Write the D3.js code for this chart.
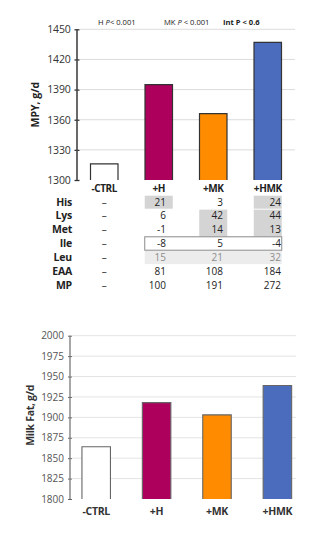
<!DOCTYPE html>
<html>
<head>
<meta charset="utf-8">
<script src="https://cdn.jsdelivr.net/npm/d3@7"></script>
<style>
  html, body { margin: 0; padding: 0; background: #fff; }
  svg { display: block; font-family: "Open Sans", "Liberation Sans", sans-serif; }
</style>
</head>
<body>
<svg id="chart" width="329" height="542"></svg>
<script>
// Treatments
const treatments = ["-CTRL", "+H", "+MK", "+HMK"];
const barColors = ["#ffffff", "#ad005c", "#ff8c00", "#4b6cbd"];

// Milk protein yield, g/d
const mpyValues = [1316, 1395, 1366, 1437];
const mpyTicks = [1300, 1330, 1360, 1390, 1420, 1450];

// Milk fat, g/d
const fatValues = [1864, 1918, 1903, 1939];
const fatTicks = [1800, 1825, 1850, 1875, 1900, 1925, 1950, 1975, 2000];

// Supply increase over control, g/d (CTRL shown as a dash)
const tableRows = ["His", "Lys", "Met", "Ile", "Leu", "EAA", "MP"];
const tableValues = [
  [null, 21, 3, 24],
  [null, 6, 42, 44],
  [null, -1, 14, 13],
  [null, -8, 5, -4],
  [null, 15, 21, 32],
  [null, 81, 108, 184],
  [null, 100, 191, 272]
];
// Highlighted cells: column and the run of rows they cover
const shadedBlocks = [
  { col: "+H", rows: ["His"] },
  { col: "+HMK", rows: ["His"] },
  { col: "+MK", rows: ["Lys", "Met"] },
  { col: "+HMK", rows: ["Lys", "Met"] }
];
const outlinedRow = "Ile";
const mutedRow = "Leu";

// Significance notes
const pNotes = [
  { pre: "H ", it: "P", post: "< 0.001", bold: false },
  { pre: "MK ", it: "P", post: " < 0.001", bold: false },
  { pre: "Int P < 0.6", it: "", post: "", bold: true }
];

const svg = d3.select("#chart");
const fmt = d3.format("d");

function drawBars(g, x, y, values, barW, strokeCol, strokeW) {
  treatments.forEach((t, i) => {
    const cx = x(t) + x.bandwidth() / 2;
    const x0 = cx - barW / 2, x1 = cx + barW / 2;
    const yT = y(values[i]), yBase = y.range()[0];
    g.append("rect")
      .attr("x", x0).attr("y", yT)
      .attr("width", barW).attr("height", yBase - yT)
      .attr("fill", barColors[i]);
    g.append("path")
      .attr("d", `M${x0},${yBase}V${yT}H${x1}V${yBase}`)
      .attr("fill", "none")
      .attr("stroke", strokeCol)
      .attr("stroke-width", strokeW);
  });
}

// ---------- Top panel: MPY ----------
const mpyG = svg.append("g");
const yMpy = d3.scaleLinear().domain([1300, 1450]).range([180, 29.3]);
const xMpy = d3.scaleBand().domain(treatments).range([77, 295]);

mpyG.append("g").selectAll("line").data(mpyTicks.slice(1)).join("line")
  .attr("x1", 80).attr("x2", 295)
  .attr("y1", d => yMpy(d)).attr("y2", d => yMpy(d))
  .attr("stroke", "#dcdcdc").attr("stroke-width", 1);

const axMpy = mpyG.append("g").attr("transform", "translate(77,0)")
  .call(d3.axisLeft(yMpy).tickValues(mpyTicks).tickFormat(fmt).tickSize(2.5).tickPadding(4));
axMpy.select(".domain").remove();
axMpy.selectAll(".tick line").attr("x2", 2.5).attr("x1", -2.5).attr("stroke", "#333").attr("stroke-width", 1.3);
axMpy.selectAll(".tick text").attr("font-size", 10.5).attr("fill", "#333")
  .attr("font-family", "Open Sans, sans-serif").attr("letter-spacing", -0.2);
mpyG.append("line").attr("x1", 77).attr("x2", 77)
  .attr("y1", yMpy(1450)).attr("y2", yMpy(1300))
  .attr("stroke", "#444").attr("stroke-width", 1.6);

drawBars(mpyG, xMpy, yMpy, mpyValues, 27.5, "#333", 1.2);

mpyG.append("text")
  .attr("transform", `translate(39,${(yMpy(1450) + yMpy(1300)) / 2}) rotate(-90)`)
  .attr("text-anchor", "middle")
  .attr("font-size", 10.5).attr("font-weight", "bold").attr("fill", "#222")
  .text("MPY, g/d");

const noteX = [98, 164, 223];
pNotes.forEach((n, i) => {
  const t = mpyG.append("text").attr("x", noteX[i]).attr("y", 24.5)
    .attr("font-size", 7.6).attr("fill", "#222")
    .attr("font-weight", n.bold ? "bold" : "normal");
  t.append("tspan").text(n.pre);
  if (n.it) t.append("tspan").attr("font-style", "italic").text(n.it);
  if (n.post) t.append("tspan").text(n.post);
});

mpyG.append("g").selectAll("text").data(treatments).join("text")
  .attr("x", d => xMpy(d) + xMpy.bandwidth() / 2)
  .attr("y", 192)
  .attr("text-anchor", "middle")
  .attr("font-size", 10).attr("font-weight", "bold").attr("fill", "#222")
  .attr("letter-spacing", -0.4)
  .text(d => d);

// ---------- Supply table ----------
const tbl = svg.append("g");
const rowY = d3.scalePoint().domain(tableRows).range([201.7, 285.3]);
const colLeft = t => xMpy(t) + xMpy.bandwidth() / 2 - 14;
const colRight = t => xMpy(t) + xMpy.bandwidth() / 2 + 14;
const textRight = { "+H": 166, "+MK": 223, "+HMK": 281 };

shadedBlocks.forEach(b => {
  const y0 = rowY(b.rows[0]) - 6;
  const y1 = rowY(b.rows[b.rows.length - 1]) + 7;
  tbl.append("rect")
    .attr("x", colLeft(b.col)).attr("y", y0)
    .attr("width", colRight(b.col) - colLeft(b.col)).attr("height", y1 - y0)
    .attr("fill", "#d4d4d4");
});

tbl.append("rect")
  .attr("x", colLeft("+H")).attr("y", rowY(mutedRow) - 6.7)
  .attr("width", colRight("+HMK") - colLeft("+H")).attr("height", 13.4)
  .attr("fill", "#ececec");

tbl.append("rect")
  .attr("x", colLeft("+H")).attr("y", rowY(outlinedRow) - 6.7)
  .attr("width", colRight("+HMK") - colLeft("+H")).attr("height", 13.4)
  .attr("fill", "#fff").attr("stroke", "#8a8a8a").attr("stroke-width", 1);

tableRows.forEach((r, ri) => {
  const cy = rowY(r) + 3.8;
  tbl.append("text").attr("x", 72).attr("y", cy)
    .attr("text-anchor", "end").attr("font-size", 10.5).attr("font-weight", "bold")
    .attr("fill", "#222").attr("letter-spacing", -0.2).text(r);
  tableValues[ri].forEach((v, ci) => {
    const t = treatments[ci];
    const txt = tbl.append("text").attr("y", cy).attr("font-size", 10);
    if (v === null) {
      txt.attr("x", xMpy(t) + xMpy.bandwidth() / 2).attr("text-anchor", "middle")
        .attr("fill", "#333").text("\u2013");
    } else {
      txt.attr("x", textRight[t]).attr("text-anchor", "end")
        .attr("fill", r === mutedRow ? "#8c8c8c" : "#222").text(v);
    }
  });
});

// ---------- Bottom panel: Milk fat ----------
const fatG = svg.append("g");
const yFat = d3.scaleLinear().domain([1800, 2000]).range([499, 335.7]);
const xFat = d3.scaleBand().domain(treatments).range([66, 307.6]);

fatG.append("g").selectAll("line").data(fatTicks.slice(1)).join("line")
  .attr("x1", 72).attr("x2", 296)
  .attr("y1", d => yFat(d)).attr("y2", d => yFat(d))
  .attr("stroke", "#e4e4e4").attr("stroke-width", 1);

const axFat = fatG.append("g").attr("transform", "translate(70,0)")
  .call(d3.axisLeft(yFat).tickValues(fatTicks).tickFormat(fmt).tickSize(2).tickPadding(4));
axFat.select(".domain").remove();
axFat.selectAll(".tick line").attr("x1", -2).attr("x2", 2).attr("stroke", "#666").attr("stroke-width", 1);
axFat.selectAll(".tick text").attr("font-size", 10).attr("fill", "#555")
  .attr("font-family", "Open Sans, sans-serif");
fatG.append("line").attr("x1", 70).attr("x2", 70)
  .attr("y1", yFat(2000)).attr("y2", yFat(1800))
  .attr("stroke", "#777").attr("stroke-width", 1.3);

drawBars(fatG, xFat, yFat, fatValues, 28.5, "#666", 1.1);

fatG.append("text")
  .attr("transform", `translate(34,${(yFat(2000) + yFat(1800)) / 2 - 2}) rotate(-90)`)
  .attr("text-anchor", "middle")
  .attr("font-size", 10.5).attr("font-weight", "bold").attr("fill", "#333")
  .attr("letter-spacing", -0.3)
  .text("Milk Fat, g/d");

fatG.append("g").selectAll("text").data(treatments).join("text")
  .attr("x", d => xFat(d) + xFat.bandwidth() / 2)
  .attr("y", 515)
  .attr("text-anchor", "middle")
  .attr("font-size", 10.5).attr("font-weight", "bold").attr("fill", "#333")
  .attr("letter-spacing", -0.3)
  .text(d => d);
</script>
</body>
</html>
